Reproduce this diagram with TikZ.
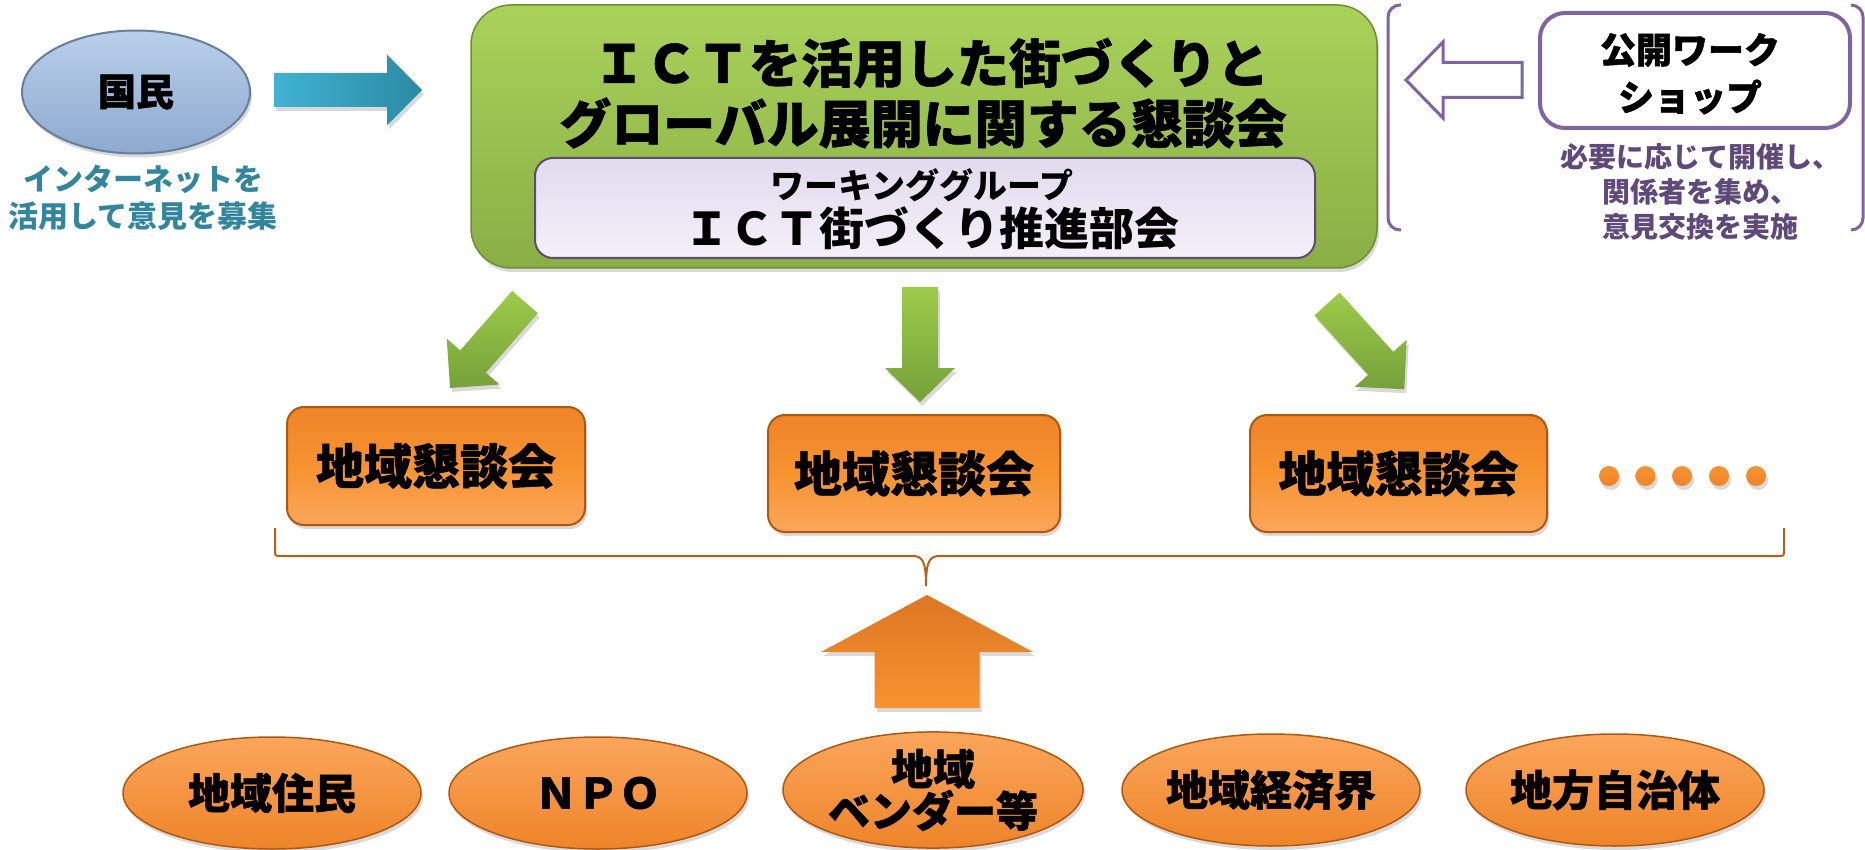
\documentclass[tikz,border=0pt]{standalone}
\usepackage{fontspec}
\setmainfont{Noto Sans CJK JP}
\newfontfamily\jpheavy{Noto Sans CJK JP}[FakeBold=1.2]
\usetikzlibrary{shapes.geometric,shadows}
\definecolor{cTeal}{HTML}{31859C}
\definecolor{cPurple}{HTML}{8064A2}
\definecolor{cPurpleText}{HTML}{5F497A}
\definecolor{cGreenTop}{HTML}{A9D25A}
\definecolor{cGreenBot}{HTML}{8AAE45}
\definecolor{cGreenEdge}{HTML}{6E8F2E}
\definecolor{cLavTop}{HTML}{E2DAEE}
\definecolor{cLavBot}{HTML}{F4F0F9}
\definecolor{cLavEdge}{HTML}{5D4B73}
\definecolor{cOrTop}{HTML}{EE8429}
\definecolor{cOrMid}{HTML}{F7932F}
\definecolor{cOrBot}{HTML}{FBA65C}
\definecolor{cOrEdge}{HTML}{B0580F}
\definecolor{cOrDark}{HTML}{DC7623}
\definecolor{cBlueTop}{HTML}{B9CFEA}
\definecolor{cBlueBot}{HTML}{8EA9CF}
\definecolor{cBlueEdge}{HTML}{687F9C}
\definecolor{cArrGa}{HTML}{9DCB48}
\definecolor{cArrGb}{HTML}{76A03A}
\definecolor{cArrBa}{HTML}{40B2D2}
\definecolor{cArrBb}{HTML}{2B8AA3}
\definecolor{cBrace}{HTML}{B5601C}
% #1 options, #2 #3 tail, #4 angle, #5 length, #6 shaft half width, #7 head half width, #8 head length
\newcommand\blockarrow[8]{%
  \begin{scope}[shift={(#2,#3)}, rotate=#4]
    \path[#1] (0,-#6) -- ({#5-#8},-#6) -- ({#5-#8},-#7) -- (#5,0) -- ({#5-#8},#7) -- ({#5-#8},#6) -- (0,#6) -- cycle;
  \end{scope}}
\tikzset{
  shadowed/.style={drop shadow={opacity=0.3, shadow xshift=2pt, shadow yshift=-4pt}},
  heavytext/.style={font={\jpheavy\bfseries\fontsize{#1}{#1}\selectfont}},
  localbox/.style={rectangle, rounded corners=17, draw=cOrEdge, line width=2,
    top color=cOrTop, bottom color=cOrBot, middle color=cOrMid, shadowed, heavytext=48},
  stake/.style={ellipse, minimum width=298, minimum height=112, draw=cOrEdge, line width=1.5,
    top color=cOrBot, bottom color=cOrTop, shadowed, align=center,
    font={\jpheavy\bfseries\fontsize{42}{40}\selectfont}},
  greenarrow/.style={top color=cArrGa, bottom color=cArrGb, shadowed},
}
\begin{document}
\begin{tikzpicture}[x=1pt,y=-1pt, every node/.style={inner sep=0pt, outer sep=0pt}]
\useasboundingbox (0,0) rectangle (1865,850);

% citizens
\node[ellipse, minimum width=228, minimum height=123, draw=cBlueEdge, line width=2,
  top color=cBlueTop, bottom color=cBlueBot, shadowed, heavytext=38] (kokumin) at (136,92) {国民};
\node[align=center, text=cTeal, font={\bfseries\fontsize{30}{37}\selectfont}] (nettext) at (143,198)
  {インターネットを\\活用して意見を募集};
\blockarrow{left color=cArrBa, right color=cArrBb, shadowed}{274}{90}{0}{148}{17}{35.5}{35}

% main council
\node[rectangle, rounded corners=40, minimum width=906, minimum height=263, draw=cGreenEdge, line width=1.5,
  top color=cGreenTop, bottom color=cGreenBot, shadowed] (council) at (924,136.5) {};
\node[heavytext=52] (title1) at (931,63) {ＩＣＴを活用した街づくりと};
\node[heavytext=52] (title2) at (923,123) {グローバル展開に関する懇談会};
\node[rectangle, rounded corners=18, minimum width=780, minimum height=100, draw=cLavEdge, line width=2,
  top color=cLavTop, bottom color=cLavBot] (wg) at (925,208) {};
\node[font={\bfseries\fontsize{34}{34}\selectfont}] (wgone) at (922,185) {ワーキンググループ};
\node[font={\bfseries\fontsize{45}{45}\selectfont}] (wgtwo) at (932,228) {ＩＣＴ街づくり推進部会};

% workshop
\draw[cPurple, line width=3, rounded corners=12] (1401,5) -- (1388,5) -- (1388,230) -- (1401,230);
\draw[cPurple, line width=3, rounded corners=12] (1851,5) -- (1863,5) -- (1863,230) -- (1851,230);
\node[rectangle, rounded corners=25, minimum width=310, minimum height=115, draw=cPurple, line width=4,
  fill=white] (ws) at (1695,70.5) {};
\node[heavytext=36] (wsone) at (1690,50) {公開ワーク};
\node[heavytext=36] (wstwo) at (1690,97) {ショップ};
\node[align=center, text=cPurpleText, font={\bfseries\fontsize{28}{35}\selectfont}] (wsnote) at (1700,192)
  {必要に応じて開催し、\\関係者を集め、\\意見交換を実施};
\blockarrow{draw=cPurple, line width=3, fill=white}{1522}{80}{180}{116}{17.5}{38}{37}

% green arrows
\blockarrow{greenarrow}{525}{302}{228.9}{114}{17}{35}{35}
\blockarrow{greenarrow}{920}{287}{270}{115}{18}{35}{34}
\blockarrow{greenarrow}{1327}{304}{312.2}{115}{17}{35}{35}

% local councils
\node[localbox, minimum width=298, minimum height=118] (localone) at (436,466) {地域懇談会};
\node[localbox, minimum width=292, minimum height=117] (localtwo) at (914,473.5) {地域懇談会};
\node[localbox, minimum width=297, minimum height=117] (localthree) at (1398.5,473.5) {地域懇談会};
\foreach \i/\x in {1/1609,2/1645.5,3/1682,4/1719,5/1756}
  \node[circle, minimum size=20, top color=cOrMid, bottom color=cOrTop, shadowed] (dot\i) at (\x,476) {};

% brace
\draw[cBrace, line width=2] (275,528) -- (275,550) .. controls (275,556) .. (281,556) -- (912,556)
  .. controls (922,556) and (926,560) .. (926,586)
  .. controls (926,560) and (930,556) .. (940,556) -- (1778,556)
  .. controls (1784,556) .. (1784,550) -- (1784,528);

% up arrow
\blockarrow{top color=cOrDark, bottom color=cOrMid, shadowed}{927}{708}{90}{113}{52.5}{106}{57}

% stakeholders
\node[stake] (residents) at (272,793) {地域住民};
\node[stake] (npo) at (598,793) {ＮＰＯ};
\node[stake, minimum width=300, minimum height=115] (vendors) at (933,790) {地域\\ベンダー等};
\node[stake] (economy) at (1271,790) {地域経済界};
\node[stake] (localgov) at (1615,790) {地方自治体};
\end{tikzpicture}
\end{document}
